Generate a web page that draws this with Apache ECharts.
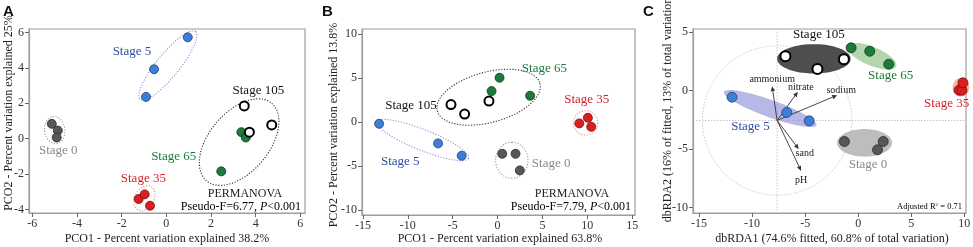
<!DOCTYPE html>
<html>
<head>
<meta charset="utf-8">
<script src="https://cdn.jsdelivr.net/npm/echarts@6/dist/echarts.min.js"></script>
<style>
  html, body { margin: 0; padding: 0; background: #fff; }
  #chart { width: 973px; height: 247px; }
</style>
</head>
<body>
<div id="chart"></div>
<script>
// panel A: PCO of stage samples (x, y, stage)
const pcoA = [
  [-5.13, 0.84, 'Stage 0'], [-4.86, 0.46, 'Stage 0'], [-4.91, 0.07, 'Stage 0'],
  [0.96, 5.72, 'Stage 5'], [-0.55, 3.92, 'Stage 5'], [-0.91, 2.36, 'Stage 5'],
  [-1.24, -3.40, 'Stage 35'], [-0.97, -3.14, 'Stage 35'], [-0.73, -3.78, 'Stage 35'],
  [3.36, 0.37, 'Stage 65'], [3.56, 0.07, 'Stage 65'], [2.46, -1.84, 'Stage 65'],
  [3.49, 1.85, 'Stage 105'], [3.72, 0.37, 'Stage 105'], [4.72, 0.78, 'Stage 105'],
]
// panel B
const pcoB = [
  [0.52, -3.61, 'Stage 0'], [2.00, -3.61, 'Stage 0'], [2.48, -5.50, 'Stage 0'],
  [-13.2, -0.19, 'Stage 5'], [-6.63, -2.43, 'Stage 5'], [-4.00, -3.83, 'Stage 5'],
  [9.11, -0.15, 'Stage 35'], [10.07, 0.49, 'Stage 35'], [10.44, -0.53, 'Stage 35'],
  [-0.67, 3.53, 'Stage 65'], [0.22, 5.05, 'Stage 65'], [3.63, 3.00, 'Stage 65'],
  [-5.19, 2.00, 'Stage 105'], [-3.67, 0.91, 'Stage 105'], [-0.96, 2.39, 'Stage 105'],
]
// panel C: dbRDA
const rdaC = [
  [-1.30, -4.36, 'Stage 0'], [2.36, -4.36, 'Stage 0'], [1.82, -5.07, 'Stage 0'],
  [-11.89, -0.57, 'Stage 5'], [-6.73, -1.88, 'Stage 5'], [-4.62, -2.59, 'Stage 5'],
  [9.50, 0.03, 'Stage 35'], [9.78, 0.03, 'Stage 35'], [9.87, 0.66, 'Stage 35'],
  [-0.67, 3.65, 'Stage 65'], [1.09, 3.36, 'Stage 65'], [2.88, 2.25, 'Stage 65'],
  [-6.86, 2.93, 'Stage 105'], [-3.84, 1.85, 'Stage 105'], [-1.35, 2.68, 'Stage 105'],
]

// group ellipses: centre x, centre y, major half-axis dx, dy, minor/major ratio, stage
const ellipsesA = [
  [0.07, 4.13, 1.24, 1.92, 0.26, 'Stage 5'],
  [-5.00, 0.49, -0.09, 0.76, 0.75, 'Stage 0'],
  [3.26, -0.19, 1.46, 2.19, 0.59, 'Stage 105'],
  [-0.98, -3.36, 0.30, 0.66, 0.70, 'Stage 35'],
]
const ellipsesB = [
  [-1.00, 2.83, 5.72, 1.57, 0.475, 'Stage 105'],
  [-8.34, -2.04, 5.10, -2.08, 0.21, 'Stage 5'],
  [1.59, -4.35, 0, 2.05, 0.9, 'Stage 0'],
  [9.81, -0.09, 1.35, 0, 1.0, 'Stage 35'],
]
const ellipsesC = [
  [-4.18, 2.71, 3.46, 0, 0.40, 'Stage 105'],
  [1.29, 2.93, 2.29, -0.87, 0.355, 'Stage 65'],
  [9.69, 0.28, 0, 0.80, 0.9, 'Stage 35'],
  [-8.30, -1.54, 4.36, -1.43, 0.175, 'Stage 5'],
  [0.60, -4.47, 2.59, 0, 0.50, 'Stage 0'],
]

// stage labels (x, y, text)
const labelsA = [[-1.54, 4.91, 'Stage 5'], [4.12, 2.71, 'Stage 105'], [-4.84, -0.66, 'Stage 0'], [0.33, -1.0, 'Stage 65'], [-1.03, -2.22, 'Stage 35']]
const labelsB = [[5.22, 6.13, 'Stage 65'], [9.94, 2.52, 'Stage 35'], [-9.65, 1.83, 'Stage 105'], [-10.85, -4.51, 'Stage 5'], [5.97, -4.69, 'Stage 0']]
const labelsC = [[-3.71, 4.79, 'Stage 105'], [3.06, 1.24, 'Stage 65'], [8.34, -1.13, 'Stage 35'], [-10.15, -3.09, 'Stage 5'], [0.92, -6.32, 'Stage 0']]

// environmental vectors in C
const vectorOrigin = [-7.64, -2.56]
const vectorCircleRadius = 7.04
const envVectors = [
  [-8.11, 0.37, 'ammonium'], [-5.69, -0.11, 'nitrate'], [-1.98, -0.40, 'sodium'],
  [-5.60, -5.01, 'sand'], [-5.38, -6.87, 'pH'],
]

const ticksA = { x: [-6, -4, -2, 0, 2, 4, 6], y: [-4, -2, 0, 2, 4, 6] }
const ticksB = { x: [-15, -10, -5, 0, 5, 10, 15], y: [-10, -5, 0, 5, 10] }
const ticksC = { x: [-15, -10, -5, 0, 5, 10], y: [-10, -5, 0, 5] }

const SERIF = '"Liberation Serif", "Times New Roman", serif'
const POINT = {
  'Stage 0': { color: '#575757', borderColor: '#2a2a2a', borderWidth: 0.8 },
  'Stage 5': { color: '#3d7fd6', borderColor: '#1f3f72', borderWidth: 0.8 },
  'Stage 35': { color: '#dc1e1e', borderColor: '#6e1010', borderWidth: 0.8 },
  'Stage 65': { color: '#1a7c3a', borderColor: '#0c3a1a', borderWidth: 0.8 },
  'Stage 105': { color: '#ffffff', borderColor: '#000000', borderWidth: 2 },
}
const LABEL_COLOR = {
  'Stage 0': '#8a8a8a', 'Stage 5': '#2c4f9e', 'Stage 35': '#d5222b', 'Stage 65': '#1c7a3b', 'Stage 105': '#111',
}
const OUTLINE = {
  'Stage 0': '#9c9c9c', 'Stage 5': '#8f8fe0', 'Stage 35': '#f0897a', 'Stage 65': '#333', 'Stage 105': '#333',
}
const FILL = {
  'Stage 0': 'rgba(172,172,172,0.8)', 'Stage 5': 'rgba(140,140,214,0.62)', 'Stage 35': 'rgba(244,158,128,0.75)',
  'Stage 65': 'rgba(160,204,154,0.8)', 'Stage 105': 'rgba(72,72,72,0.97)',
}
const VECTOR_LABEL_OFFSET = {
  ammonium: [0, -7], nitrate: [3, -4], sodium: [4, -5], sand: [6, 4], pH: [0, 9],
}

const chart = echarts.init(document.getElementById('chart'), null, { renderer: 'canvas' })

function axisPair(i, xr, yr, ticks) {
  const common = {
    gridIndex: i, type: 'value',
    axisLine: { show: true, onZero: false, lineStyle: { color: '#9e9e9e', width: 1.2 } },
    axisTick: { show: true, length: 4, lineStyle: { color: '#666' } },
    axisLabel: { fontFamily: SERIF, fontSize: 12, color: '#333', margin: 5 },
    splitLine: { show: false },
  }
  const x = { ...common, min: xr[0], max: xr[1],
    axisTick: { ...common.axisTick, customValues: ticks.x },
    axisLabel: { ...common.axisLabel, customValues: ticks.x } }
  const y = { ...common, min: yr[0], max: yr[1],
    axisTick: { ...common.axisTick, customValues: ticks.y },
    axisLabel: { ...common.axisLabel, customValues: ticks.y } }
  return [x, y]
}

const [xA, yA] = axisPair(0, [-6.15, 6.21], [-4.19, 6.19], ticksA)
const [xB, yB] = axisPair(1, [-15.11, 15.32], [-10.58, 10.6], ticksB)
const [xC, yC] = axisPair(2, [-15.57, 10.16], [-10.47, 5.26], ticksC)

function ellipseSeries(i, list, filled) {
  return {
    type: 'custom', xAxisIndex: i, yAxisIndex: i, silent: true, z: 1,
    data: list.map(e => e.slice(0, 5)),
    renderItem: (params, api) => {
      const stage = list[params.dataIndex][5]
      const cx = api.value(0), cy = api.value(1)
      const c = api.coord([cx, cy])
      const e = api.coord([cx + api.value(2), cy + api.value(3)])
      const dx = e[0] - c[0], dy = e[1] - c[1]
      const a = Math.hypot(dx, dy), b = a * api.value(4), ang = Math.atan2(dy, dx)
      const pts = []
      for (let k = 0; k < 80; k++) {
        const t = (k / 80) * Math.PI * 2
        pts.push([
          c[0] + a * Math.cos(t) * Math.cos(ang) - b * Math.sin(t) * Math.sin(ang),
          c[1] + a * Math.cos(t) * Math.sin(ang) + b * Math.sin(t) * Math.cos(ang),
        ])
      }
      const style = filled
        ? { fill: FILL[stage], stroke: null }
        : { fill: null, stroke: OUTLINE[stage], lineWidth: 1.1, lineDash: [1.2, 1.6] }
      return { type: 'polygon', shape: { points: pts }, style }
    },
  }
}

function pointSeries(i, list, size) {
  return {
    type: 'scatter', xAxisIndex: i, yAxisIndex: i, z: 5, symbolSize: size, silent: true,
    data: list.map(p => ({ value: [p[0], p[1]], itemStyle: { ...POINT[p[2]], opacity: 1 } })),
  }
}

function labelSeries(i, list) {
  return {
    type: 'custom', xAxisIndex: i, yAxisIndex: i, z: 6, silent: true,
    data: list.map(l => [l[0], l[1]]),
    renderItem: (params, api) => {
      const name = list[params.dataIndex][2]
      const p = api.coord([api.value(0), api.value(1)])
      return { type: 'text', x: p[0], y: p[1],
        style: { text: name, fill: LABEL_COLOR[name], font: '13px ' + SERIF, align: 'center', verticalAlign: 'middle' } }
    },
  }
}

const series = [
  ellipseSeries(0, ellipsesA, false),
  pointSeries(0, pcoA, 9),
  labelSeries(0, labelsA),
  ellipseSeries(1, ellipsesB, false),
  pointSeries(1, pcoB, 9),
  labelSeries(1, labelsB),
  // C: correlation circle and cross-hair through vector origin
  {
    type: 'custom', xAxisIndex: 2, yAxisIndex: 2, silent: true, z: 0,
    data: [[vectorOrigin[0], vectorOrigin[1], vectorCircleRadius]],
    renderItem: (params, api) => {
      const c = api.coord([api.value(0), api.value(1)])
      const r = api.size([api.value(2), 0])[0]
      const cs = params.coordSys
      const dash = { stroke: '#c8c8c8', lineWidth: 1, lineDash: [1.5, 1.5], fill: null }
      return { type: 'group', children: [
        { type: 'circle', shape: { cx: c[0], cy: c[1], r }, style: dash },
        { type: 'line', shape: { x1: c[0], y1: cs.y, x2: c[0], y2: cs.y + cs.height }, style: dash },
        { type: 'line', shape: { x1: cs.x, y1: c[1], x2: cs.x + cs.width, y2: c[1] }, style: dash },
      ] }
    },
  },
  ellipseSeries(2, ellipsesC, true),
  {
    type: 'custom', xAxisIndex: 2, yAxisIndex: 2, silent: true, z: 3,
    data: envVectors.map(v => [v[0], v[1]]),
    renderItem: (params, api) => {
      const name = envVectors[params.dataIndex][2]
      const o = api.coord(vectorOrigin)
      const p = api.coord([api.value(0), api.value(1)])
      const ang = Math.atan2(p[1] - o[1], p[0] - o[0])
      const hl = 5, hw = 2.2
      const bx = p[0] - hl * Math.cos(ang), by = p[1] - hl * Math.sin(ang)
      const off = VECTOR_LABEL_OFFSET[name]
      return { type: 'group', children: [
        { type: 'line', shape: { x1: o[0], y1: o[1], x2: bx, y2: by }, style: { stroke: '#333', lineWidth: 0.9 } },
        { type: 'polygon', shape: { points: [p,
          [bx - hw * Math.sin(ang), by + hw * Math.cos(ang)],
          [bx + hw * Math.sin(ang), by - hw * Math.cos(ang)]] }, style: { fill: '#333' } },
        { type: 'text', x: p[0] + off[0], y: p[1] + off[1],
          style: { text: name, fill: '#222', font: '10px ' + SERIF, align: 'center', verticalAlign: 'middle' } },
      ] }
    },
  },
  pointSeries(2, rdaC, 10),
  labelSeries(2, labelsC),
]

function txt(x, y, text, extra) {
  return { type: 'text', x, y, silent: true,
    style: Object.assign({ text, font: '12px ' + SERIF, fill: '#222', align: 'center', verticalAlign: 'middle' }, extra || {}) }
}
const yTitle = (x, y, text) => Object.assign(txt(x, y, text), { rotation: Math.PI / 2 })
const rich = { n: { fontFamily: SERIF, fontSize: 12, color: '#222' }, i: { fontFamily: SERIF, fontSize: 12, fontStyle: 'italic', color: '#222' } }
const letter = { font: 'bold 15px "Liberation Sans", Arial, sans-serif', fill: '#111', align: 'left', verticalAlign: 'top' }

chart.setOption({
  animation: false,
  grid: [
    { left: 29, top: 29, width: 276, height: 184, show: true, borderColor: '#9e9e9e', borderWidth: 1.2, outerBoundsMode: 'none' },
    { left: 362, top: 29, width: 273, height: 186, show: true, borderColor: '#9e9e9e', borderWidth: 1.2, outerBoundsMode: 'none' },
    { left: 693, top: 29, width: 273, height: 184, show: true, borderColor: '#9e9e9e', borderWidth: 1.2, outerBoundsMode: 'none' },
  ],
  xAxis: [xA, xB, xC],
  yAxis: [yA, yB, yC],
  series,
  graphic: [
    txt(3, 4, 'A', letter), txt(322, 4, 'B', letter), txt(643, 4, 'C', letter),
    txt(167, 239, 'PCO1 - Percent variation explained 38.2%'),
    txt(500, 239, 'PCO1 - Percent variation explained 63.8%'),
    txt(832, 239, 'dbRDA1 (74.6% fitted, 60.8% of total variation)'),
    yTitle(9, 113, 'PCO2 - Percent variation explained 25%'),
    yTitle(334, 125, 'PCO2 - Percent variation explained 13.8%'),
    yTitle(668, 108, 'dbRDA2 (16% of fitted, 13% of total variation)'),
    txt(245, 194, 'PERMANOVA'),
    { type: 'text', x: 301, y: 207, silent: true,
      style: { text: '{n|Pseudo-F=6.77, }{i|P}{n|<0.001}', rich, align: 'right', verticalAlign: 'middle' } },
    txt(572, 194, 'PERMANOVA'),
    { type: 'text', x: 631, y: 207, silent: true,
      style: { text: '{n|Pseudo-F=7.79, }{i|P}{n|<0.001}', rich, align: 'right', verticalAlign: 'middle' } },
    { type: 'text', x: 962, y: 207, silent: true,
      style: { text: '{n|Adjusted R}{s|2}{n| = 0.71}', align: 'right', verticalAlign: 'middle',
        rich: { n: { fontFamily: SERIF, fontSize: 8.5, color: '#222' }, s: { fontFamily: SERIF, fontSize: 5, color: '#222', verticalAlign: 'top', padding: [0, 0, 4, 0] } } } },
  ],
})
</script>
</body>
</html>
